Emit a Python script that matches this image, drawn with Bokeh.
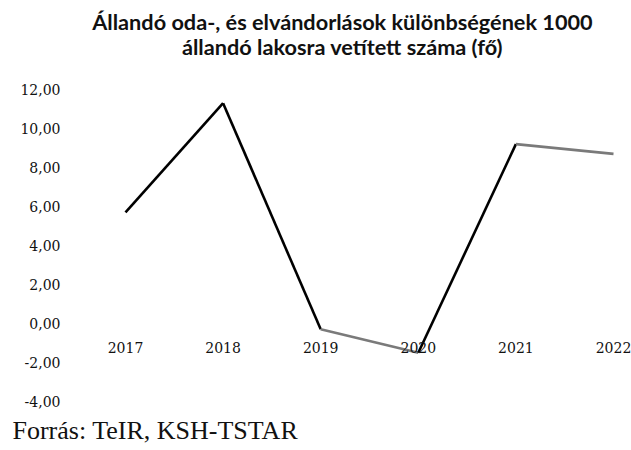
from bokeh.plotting import figure
from bokeh.models import Label, FixedTicker, Title, ColumnDataSource
from bokeh.core.properties import value
from bokeh.embed import file_html
from bokeh.resources import INLINE

years = [2017, 2018, 2019, 2020, 2021, 2022]
values = [5.70, 11.30, -0.30, -1.50, 9.20, 8.70]
year_labels = ["2017", "2018", "2019", "2020", "2021", "2022"]
y_ticks = [-4, -2, 0, 2, 4, 6, 8, 10, 12]
y_tick_labels = ["-4,00", "-2,00", "0,00", "2,00", "4,00", "6,00", "8,00", "10,00", "12,00"]
title_line1 = "Állandó oda-, és elvándorlások különbségének 1000"
title_line2 = "állandó lakosra vetített száma (fő)"
source_text = "Forrás: TeIR, KSH-TSTAR"

p = figure(width=631, height=450, output_backend="svg", toolbar_location=None,
           x_range=(2016.4365, 2022.1844), y_range=(-4.359, 16.564),
           min_border_left=70, min_border_right=0, min_border_top=0, min_border_bottom=42)

p.outline_line_color = None
p.xgrid.visible = False
p.ygrid.visible = False

# line segments (near-horizontal ones look lighter in the reference)
seg_colors = ["black", "black", "#7a7a7a", "black", "#7a7a7a"]
p.segment(x0=years[:-1], y0=values[:-1], x1=years[1:], y1=values[1:],
          line_color=seg_colors, line_width=2.6)

# y axis
p.yaxis.ticker = FixedTicker(ticks=y_ticks)
p.yaxis.major_label_overrides = {t: l for t, l in zip(y_ticks, y_tick_labels)}
p.yaxis.axis_line_color = None
p.yaxis.major_tick_line_color = None
p.yaxis.minor_tick_line_color = None
p.yaxis.major_tick_out = 0
p.yaxis.major_label_text_font = "DejaVu Serif"
p.yaxis.major_label_text_font_size = "14px"
p.yaxis.major_label_text_color = "#111111"
p.yaxis.major_label_standoff = 10

# category labels sit below the zero line (the axis crosses at 0)
p.xaxis.visible = False
cat_src = ColumnDataSource(dict(x=years, y=[0 for _ in years], t=year_labels))
p.text(x="x", y="y", text="t", source=cat_src, text_align="center", text_baseline="middle",
       y_offset=24, text_font=value("DejaVu Serif"), text_font_size="14px", text_color="#111111")

# two-line title inside the top of the frame
p.add_layout(Label(x=2019.223, y=15.487, text=title_line1, text_align="center",
                   text_baseline="middle", text_font="Lato", text_font_style="bold",
                   text_font_size="21.7px", text_color="#111111"))
p.add_layout(Label(x=2019.223, y=14.154, text=title_line2, text_align="center",
                   text_baseline="middle", text_font="Lato", text_font_style="bold",
                   text_font_size="21.7px", text_color="#111111"))

# source note below
p.add_layout(Title(text=source_text, align="left", offset=-58, standoff=10,
                   text_font="Liberation Serif", text_font_style="normal",
                   text_font_size="26px", text_color="#111111"), "below")

open("out.html", "w").write(file_html(p, INLINE))
